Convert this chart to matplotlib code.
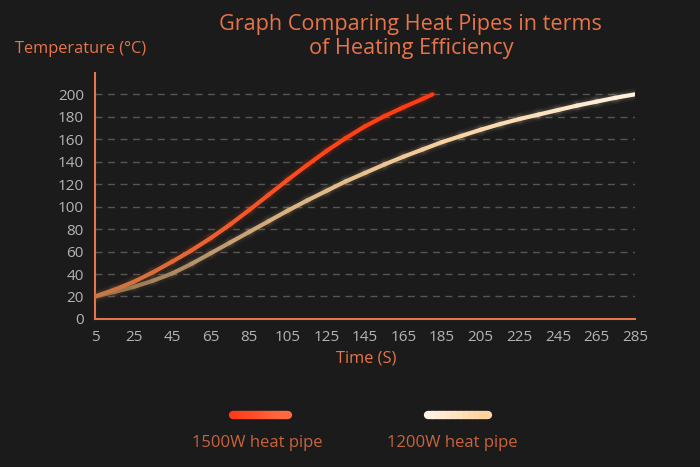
import matplotlib
matplotlib.use("Agg")
import matplotlib.pyplot as plt
import numpy as np
from matplotlib.collections import LineCollection
from matplotlib.colors import LinearSegmentedColormap

# datos
tiempo_1500 = [5, 15, 25, 35, 45, 55, 65, 75, 85, 95, 105, 115, 125, 135, 145, 155, 165, 175, 180]
temp_1500 = [20, 26, 33, 41.5, 51, 61, 72, 84, 97, 110.5, 124, 137, 149.5, 161, 171.5, 180.5, 188.5, 196, 200]

tiempo_1200 = [5, 15, 25, 35, 45, 55, 65, 75, 85, 95, 105, 115, 125, 135, 145, 155, 165, 175,
               185, 195, 205, 215, 225, 235, 245, 255, 265, 275, 285]
temp_1200 = [20, 24, 28.5, 34, 40.5, 49, 58.5, 68, 77.5, 87, 96.5, 105.5, 114, 122.5, 130, 137.5,
             144.5, 151, 157.5, 163, 168.5, 173.5, 178, 182, 186, 190, 193.5, 197, 200]

xticks = list(range(5, 286, 20))
yticks = list(range(0, 201, 20))
etiquetas = ["1500W heat pipe", "1200W heat pipe"]

# estilo
fondo = "#1b1b1b"
naranja = "#e8744a"
gris_txt = "#b4b4b4"
plt.rcParams['font.family'] = ['Open Sans', 'DejaVu Sans']

cmap_rojo = LinearSegmentedColormap.from_list("rojo", ["#c87848", "#f0602e", "#ff4418", "#ff3a12"])
cmap_crema = LinearSegmentedColormap.from_list("crema", ["#8c7050", "#d8b080", "#f8d2a0", "#fff0dc"])

fig = plt.figure(figsize=(7, 4.67), dpi=100, facecolor=fondo)
ax = fig.add_axes([0.1357, 0.317, 0.7714, 0.5267])
ax.set_facecolor(fondo)


def curva(ax, x, y, cmap, z):
    x = np.asarray(x, float)
    y = np.asarray(y, float)
    puntos = np.column_stack([x, y]).reshape(-1, 1, 2)
    seg = np.concatenate([puntos[:-1], puntos[1:]], axis=1)
    frac = np.linspace(0, 1, len(seg))
    colores = cmap(frac)
    # brillo suave
    for lw, a in [(9, 0.04), (6, 0.08)]:
        glow = colores.copy()
        glow[:, 3] = a
        ax.add_collection(LineCollection(seg, colors=glow, linewidths=lw,
                                         capstyle='round', joinstyle='round', zorder=z))
    ax.add_collection(LineCollection(seg, colors=colores, linewidths=3,
                                     capstyle='round', joinstyle='round', zorder=z + 1))


curva(ax, tiempo_1200, temp_1200, cmap_crema, 3)
curva(ax, tiempo_1500, temp_1500, cmap_rojo, 5)

ax.set_xlim(5, 285)
ax.set_ylim(0, 219)
ax.set_xticks(xticks)
ax.set_yticks(yticks)
ax.tick_params(length=0, colors=gris_txt, labelsize=11, pad=8)
for lab in ax.get_xticklabels() + ax.get_yticklabels():
    lab.set_color(gris_txt)

for y in yticks[1:]:
    ax.axhline(y, color="#555555", lw=1, ls=(0, (5, 4)), zorder=1)

for s in ["top", "right"]:
    ax.spines[s].set_visible(False)
for s in ["left", "bottom"]:
    ax.spines[s].set_color(naranja)
    ax.spines[s].set_linewidth(1.5)

# textos
fig.text(0.587, 0.922, "Graph Comparing Heat Pipes in terms\nof Heating Efficiency",
         ha="center", va="center", color=naranja, fontsize=15.6, linespacing=1.2)
fig.text(0.022, 0.895, "Temperature (°C)", ha="left", va="center", color=naranja, fontsize=11.8)
fig.text(0.523, 0.233, "Time (S)", ha="center", va="center", color=naranja, fontsize=11.8)

# leyenda
def barra_leyenda(x0, x1, y, cmap):
    xs = np.linspace(x0, x1, 12)
    pts = np.column_stack([xs, np.full_like(xs, y)]).reshape(-1, 1, 2)
    seg = np.concatenate([pts[:-1], pts[1:]], axis=1)
    lc = LineCollection(seg, colors=cmap(np.linspace(0, 1, len(seg))), linewidths=6,
                        capstyle='round', transform=fig.transFigure)
    fig.add_artist(lc)


rojo_leg = LinearSegmentedColormap.from_list("rl", ["#ff3a18", "#ff6a40"])
crema_leg = LinearSegmentedColormap.from_list("cl", ["#fff4e6", "#ffd4a0"])
barra_leyenda(233 / 700, 288 / 700, 1 - 415 / 467, rojo_leg)
barra_leyenda(428 / 700, 488 / 700, 1 - 415 / 467, crema_leg)
fig.text(257 / 700, 1 - 443 / 467, etiquetas[0], ha="center", va="center", color="#c8643e", fontsize=12)
fig.text(452 / 700, 1 - 443 / 467, etiquetas[1], ha="center", va="center", color="#c8643e", fontsize=12)

plt.savefig("out.png", dpi=100, facecolor=fondo)
